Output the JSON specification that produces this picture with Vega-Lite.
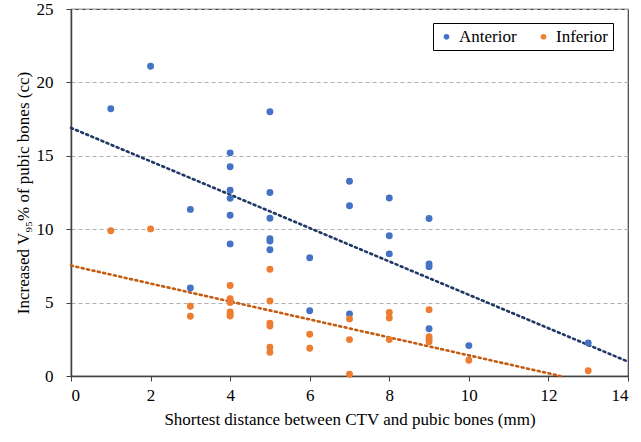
{
  "$schema": "https://vega.github.io/schema/vega-lite/v6.json",
  "autosize": {"type": "none"},
  "width": 557,
  "height": 367,
  "padding": {"left": 71, "top": 9, "right": 13, "bottom": 66},
  "background": "white",
  "config": {
    "font": "Liberation Serif",
    "view": {"stroke": "#404040", "strokeWidth": 1.2},
    "axis": {
      "labelFont": "Liberation Serif",
      "titleFont": "Liberation Serif",
      "labelFontSize": 17,
      "titleFontSize": 17,
      "titleFontWeight": "normal",
      "labelColor": "#000000",
      "titleColor": "#000000",
      "domainColor": "#404040",
      "domainWidth": 1.5,
      "tickColor": "#404040",
      "tickSize": 5
    },
    "legend": {
      "labelFont": "Liberation Serif"
    }
  },
  "datasets": {
    "points": [
      {"d": 1, "v": 18.2, "site": "Anterior"},
      {"d": 2, "v": 21.1, "site": "Anterior"},
      {"d": 3, "v": 11.35, "site": "Anterior"},
      {"d": 3, "v": 6.0, "site": "Anterior"},
      {"d": 4, "v": 15.2, "site": "Anterior"},
      {"d": 4, "v": 14.25, "site": "Anterior"},
      {"d": 4, "v": 12.65, "site": "Anterior"},
      {"d": 4, "v": 12.1, "site": "Anterior"},
      {"d": 4, "v": 10.95, "site": "Anterior"},
      {"d": 4, "v": 9.0, "site": "Anterior"},
      {"d": 5, "v": 18.0, "site": "Anterior"},
      {"d": 5, "v": 12.5, "site": "Anterior"},
      {"d": 5, "v": 10.75, "site": "Anterior"},
      {"d": 5, "v": 9.35, "site": "Anterior"},
      {"d": 5, "v": 9.2, "site": "Anterior"},
      {"d": 5, "v": 8.6, "site": "Anterior"},
      {"d": 6, "v": 8.05, "site": "Anterior"},
      {"d": 6, "v": 4.45, "site": "Anterior"},
      {"d": 7, "v": 13.27, "site": "Anterior"},
      {"d": 7, "v": 11.6, "site": "Anterior"},
      {"d": 7, "v": 4.23, "site": "Anterior"},
      {"d": 8, "v": 12.13, "site": "Anterior"},
      {"d": 8, "v": 9.55, "site": "Anterior"},
      {"d": 8, "v": 8.32, "site": "Anterior"},
      {"d": 9, "v": 10.73, "site": "Anterior"},
      {"d": 9, "v": 7.63, "site": "Anterior"},
      {"d": 9, "v": 7.45, "site": "Anterior"},
      {"d": 9, "v": 3.22, "site": "Anterior"},
      {"d": 10, "v": 2.07, "site": "Anterior"},
      {"d": 13, "v": 2.25, "site": "Anterior"},
      {"d": 1, "v": 9.9, "site": "Inferior"},
      {"d": 2, "v": 10.02, "site": "Inferior"},
      {"d": 3, "v": 4.75, "site": "Inferior"},
      {"d": 3, "v": 4.07, "site": "Inferior"},
      {"d": 4, "v": 6.16, "site": "Inferior"},
      {"d": 4, "v": 5.27, "site": "Inferior"},
      {"d": 4, "v": 5.13, "site": "Inferior"},
      {"d": 4, "v": 5.0, "site": "Inferior"},
      {"d": 4, "v": 4.36, "site": "Inferior"},
      {"d": 4, "v": 4.23, "site": "Inferior"},
      {"d": 4, "v": 4.09, "site": "Inferior"},
      {"d": 5, "v": 7.27, "site": "Inferior"},
      {"d": 5, "v": 5.11, "site": "Inferior"},
      {"d": 5, "v": 3.59, "site": "Inferior"},
      {"d": 5, "v": 3.41, "site": "Inferior"},
      {"d": 5, "v": 1.96, "site": "Inferior"},
      {"d": 5, "v": 1.61, "site": "Inferior"},
      {"d": 6, "v": 2.84, "site": "Inferior"},
      {"d": 6, "v": 1.89, "site": "Inferior"},
      {"d": 7, "v": 3.89, "site": "Inferior"},
      {"d": 7, "v": 2.48, "site": "Inferior"},
      {"d": 7, "v": 0.12, "site": "Inferior"},
      {"d": 8, "v": 4.32, "site": "Inferior"},
      {"d": 8, "v": 3.95, "site": "Inferior"},
      {"d": 8, "v": 2.48, "site": "Inferior"},
      {"d": 9, "v": 4.52, "site": "Inferior"},
      {"d": 9, "v": 2.68, "site": "Inferior"},
      {"d": 9, "v": 2.5, "site": "Inferior"},
      {"d": 9, "v": 2.34, "site": "Inferior"},
      {"d": 10, "v": 1.07, "site": "Inferior"},
      {"d": 13, "v": 0.36, "site": "Inferior"}
    ],
    "trend": [
      {"d": 0, "v": 16.9, "site": "Anterior"},
      {"d": 14, "v": 0.98, "site": "Anterior"},
      {"d": 0, "v": 7.52, "site": "Inferior"},
      {"d": 12.3, "v": 0, "site": "Inferior"}
    ]
  },
  "resolve": {"legend": {"fill": "independent", "stroke": "independent"}},
  "layer": [
    {
      "data": {"name": "trend"},
      "mark": {"type": "line", "strokeDash": [2, 3.5], "strokeWidth": 2.6, "strokeCap": "round"},
      "encoding": {
        "x": {"field": "d", "type": "quantitative"},
        "y": {"field": "v", "type": "quantitative"},
        "detail": {"field": "site"},
        "stroke": {
          "field": "site",
          "type": "nominal",
          "scale": {"domain": ["Anterior", "Inferior"], "range": ["#1F3864", "#C55A11"]},
          "legend": null
        }
      }
    },
    {
      "data": {"name": "points"},
      "mark": {"type": "point", "shape": "circle", "filled": true, "opacity": 1, "size": 48},
      "encoding": {
        "x": {
          "field": "d",
          "type": "quantitative",
          "scale": {"domain": [0, 14], "nice": false},
          "axis": {
            "values": [0, 2, 4, 6, 8, 10, 12, 14],
            "grid": false,
            "labelPadding": 6,
            "title": "Shortest distance between CTV and pubic bones (mm)",
            "titlePadding": 8
          }
        },
        "y": {
          "field": "v",
          "type": "quantitative",
          "scale": {"domain": [0, 25], "nice": false},
          "axis": {
            "values": [0, 5, 10, 15, 20, 25],
            "grid": true,
            "gridDash": [4, 3],
            "gridColor": "#b0b0b0",
            "gridWidth": 1.2,
            "labelPadding": 13,
            "title": "Increased V₉₅% of pubic bones (cc)",
            "titlePadding": 4
          }
        },
        "fill": {
          "field": "site",
          "type": "nominal",
          "scale": {"domain": ["Anterior", "Inferior"], "range": ["#4472C4", "#ED7D31"]},
          "legend": {
            "title": null,
            "orient": "none",
            "direction": "horizontal",
            "legendX": 362,
            "legendY": 14,
            "strokeColor": "#000000",
            "fillColor": "#ffffff",
            "padding": 5,
            "labelFontSize": 17,
            "labelColor": "#000000",
            "symbolType": "circle",
            "symbolSize": 32,
            "symbolStrokeWidth": 0,
            "labelOffset": 4,
            "columnPadding": 18
          }
        }
      }
    }
  ]
}
